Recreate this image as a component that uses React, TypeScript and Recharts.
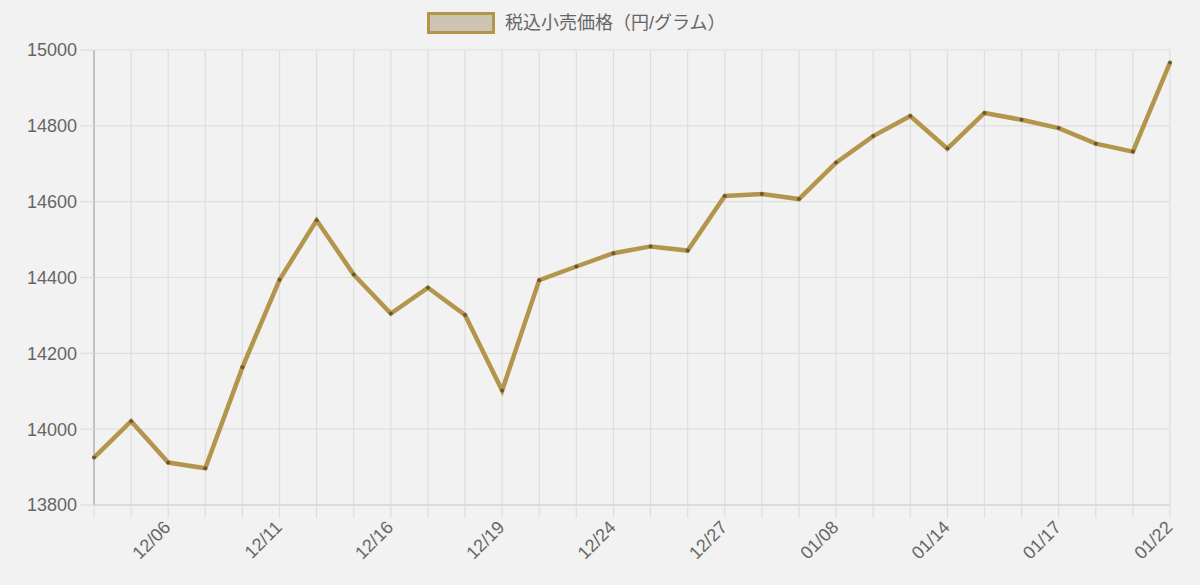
import { LineChart, Line, XAxis, YAxis, CartesianGrid } from 'recharts'

// dates (only every 3rd one is labelled on the axis)
const dates = [
  '12/04', '12/05', '12/06', '12/07', '12/08', '12/11', '12/12', '12/14', '12/16', '12/17',
  '12/18', '12/19', '12/20', '12/21', '12/24', '12/25', '12/26', '12/27', '01/04', '01/05',
  '01/08', '01/10', '01/11', '01/14', '01/15', '01/16', '01/17', '01/18', '01/19', '01/22'
]

// 税込小売価格（円/グラム）
const prices = [
  13925, 14021, 13912, 13897, 14163, 14394, 14551, 14408, 14305, 14373,
  14301, 14102, 14393, 14429, 14464, 14482, 14471, 14615, 14620, 14607,
  14703, 14773, 14826, 14740, 14834, 14816, 14794, 14753, 14732, 14967
]

const yTicks = [13800, 14000, 14200, 14400, 14600, 14800, 15000]

const seriesName = '税込小売価格（円/グラム）'

const chartData = dates.map((d, i) => ({ date: d, price: prices[i] }))

const FONT = "'Liberation Sans', Arial, 'Noto Sans CJK JP', sans-serif"
const GOLD = '#b4954c'
const GRID = '#dedede'

const DateTick = (props: any) => {
  const { x, y, payload, index } = props
  if (index % 3 !== 2) return null
  return (
    <g transform={`translate(${x - 5},${y})`}>
      <text
        x={0}
        y={0}
        dy={12}
        textAnchor="end"
        transform="rotate(-45)"
        fill="#666"
        fontSize={18}
        fontFamily={FONT}
      >
        {payload.value}
      </text>
    </g>
  )
}

const App = () => {
  return (
    <div
      style={{
        position: 'absolute',
        left: 0,
        top: 0,
        width: 1200,
        height: 585,
        background: '#f2f2f2',
        fontFamily: FONT
      }}
    >
      {/* legend */}
      <div style={{ position: 'absolute', left: 427, top: 12, display: 'flex', alignItems: 'center' }}>
        <div
          style={{
            width: 62,
            height: 16,
            border: `3px solid ${GOLD}`,
            background: '#cdc4b1'
          }}
        />
        <span style={{ marginLeft: 10, fontSize: 18, color: '#666', lineHeight: '22px' }}>{seriesName}</span>
      </div>

      <LineChart
        width={1200}
        height={585}
        data={chartData}
        margin={{ top: 50, right: 30, bottom: 0, left: 0 }}
      >
        <CartesianGrid stroke={GRID} strokeWidth={1.2} />
        <XAxis
          dataKey="date"
          interval={0}
          height={80}
          tickSize={13}
          tickMargin={2}
          tickLine={{ stroke: GRID, strokeWidth: 1.2 }}
          axisLine={{ stroke: '#cfcfcf', strokeWidth: 1.2 }}
          tick={<DateTick />}
        />
        <YAxis
          domain={[13800, 15000]}
          ticks={yTicks}
          width={94}
          tickSize={14}
          tickMargin={3}
          tickLine={{ stroke: GRID, strokeWidth: 1.2 }}
          axisLine={{ stroke: '#a8a8a8', strokeWidth: 1.2 }}
          tick={{ fill: '#666', fontSize: 18, fontFamily: FONT }}
        />
        <Line
          type="linear"
          dataKey="price"
          name={seriesName}
          stroke={GOLD}
          strokeWidth={4.5}
          dot={{ r: 2, fill: '#6b5833', stroke: 'none' }}
          activeDot={false}
          isAnimationActive={false}
        />
      </LineChart>
    </div>
  )
}

export default App
